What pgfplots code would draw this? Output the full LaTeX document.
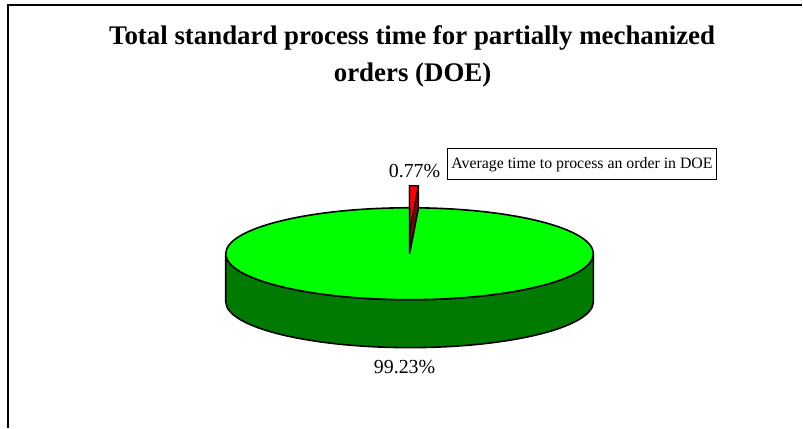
\documentclass[border=0pt]{standalone}
\usepackage{pgfplots}
\pgfplotsset{compat=1.18}
\usepackage{pgfplotstable}
\usepackage{fontspec}
\setmainfont{Liberation Serif}
\definecolor{topGreen}{HTML}{00FF00}
\definecolor{sideGreen}{HTML}{007A00}
\definecolor{topRed}{HTML}{FF0000}
\definecolor{sideRed}{HTML}{8A0000}

% share of total time, in percent
\pgfplotstableread{
share
0.77
99.23
}\piedata

\begin{document}
\begin{tikzpicture}
\pgfplotstablegetelem{0}{share}\of\piedata
\pgfmathsetmacro\angA{360*\pgfplotsretval/100}
% pie geometry in page units (1 unit = 1bp)
\def\cx{410}\def\cy{174}\def\rx{184}\def\ry{46}\def\dep{48}\def\lift{22}
\pgfmathsetmacro\angB{90-\angA}
\pgfmathsetmacro\gEnd{450-\angA}
\pgfmathsetmacro\Ty{\cy+\lift}
\pgfmathsetmacro\Px{\cx+\rx*cos(\angB)}
\pgfmathsetmacro\Py{\Ty+\ry*sin(\angB)}
\pgfmathsetmacro\Tdy{\Ty-\dep}
\pgfmathsetmacro\Pdy{\Py-\dep}
\pgfmathsetmacro\Gy{\cy+\ry}
\pgfmathsetmacro\Lx{\cx-\rx}
\pgfmathsetmacro\Rx{\cx+\rx}
\pgfmathsetmacro\cyd{\cy-\dep}
\begin{axis}[width=803bp, height=428bp, scale only axis,
  xmin=0, xmax=803, ymin=0, ymax=428, hide axis, clip=false]
\path (axis cs:0,0) (axis cs:803,428);
% frame
\draw[line width=1.7bp] (axis cs:8,0) -- (axis cs:8,423) -- (axis cs:803,423);
% title
\node[anchor=base, font=\fontsize{27}{30}\bfseries\selectfont] at (axis cs:412.5,383)
  {Total standard process time for partially mechanized};
\node[anchor=base, font=\fontsize{27}{30}\bfseries\selectfont] at (axis cs:413,346)
  {orders (DOE)};
% exploded slice (0.77%)
\filldraw[fill=sideRed, draw=black, line width=1.2bp]
  (axis cs:\cx,\Tdy) -- (axis cs:\Px,\Pdy) -- (axis cs:\Px,\Py)
  arc[start angle=\angB, end angle=90, x radius=\rx bp, y radius=\ry bp] -- cycle;
\filldraw[fill=topRed, draw=black, line width=1.2bp]
  (axis cs:\cx,\Ty) -- (axis cs:\Px,\Py)
  arc[start angle=\angB, end angle=90, x radius=\rx bp, y radius=\ry bp] -- cycle;
% main slice (99.23%)
\filldraw[fill=sideGreen, draw=black, line width=1.6bp]
  (axis cs:\Lx,\cy) arc[start angle=180, end angle=360, x radius=\rx bp, y radius=\ry bp]
  -- (axis cs:\Rx,\cyd) arc[start angle=360, end angle=180, x radius=\rx bp, y radius=\ry bp] -- cycle;
\filldraw[fill=topGreen, draw=black, line width=1.6bp]
  (axis cs:\cx,\cy) -- (axis cs:\cx,\Gy)
  arc[start angle=90, end angle=\gEnd, x radius=\rx bp, y radius=\ry bp] -- cycle;
% labels
\node[font=\fontsize{20}{24}\selectfont] at (axis cs:415,257) {0.77\%};
\node[font=\fontsize{20}{24}\selectfont] at (axis cs:405,61) {99.23\%};
% legend
\node[draw, line width=1.2bp, anchor=west, minimum width=270bp, minimum height=31bp,
  inner xsep=4bp, font=\fontsize{15.9}{18}\selectfont] at (axis cs:447,263.5)
  {Average time to process an order in DOE};
\end{axis}
\end{tikzpicture}
\end{document}
